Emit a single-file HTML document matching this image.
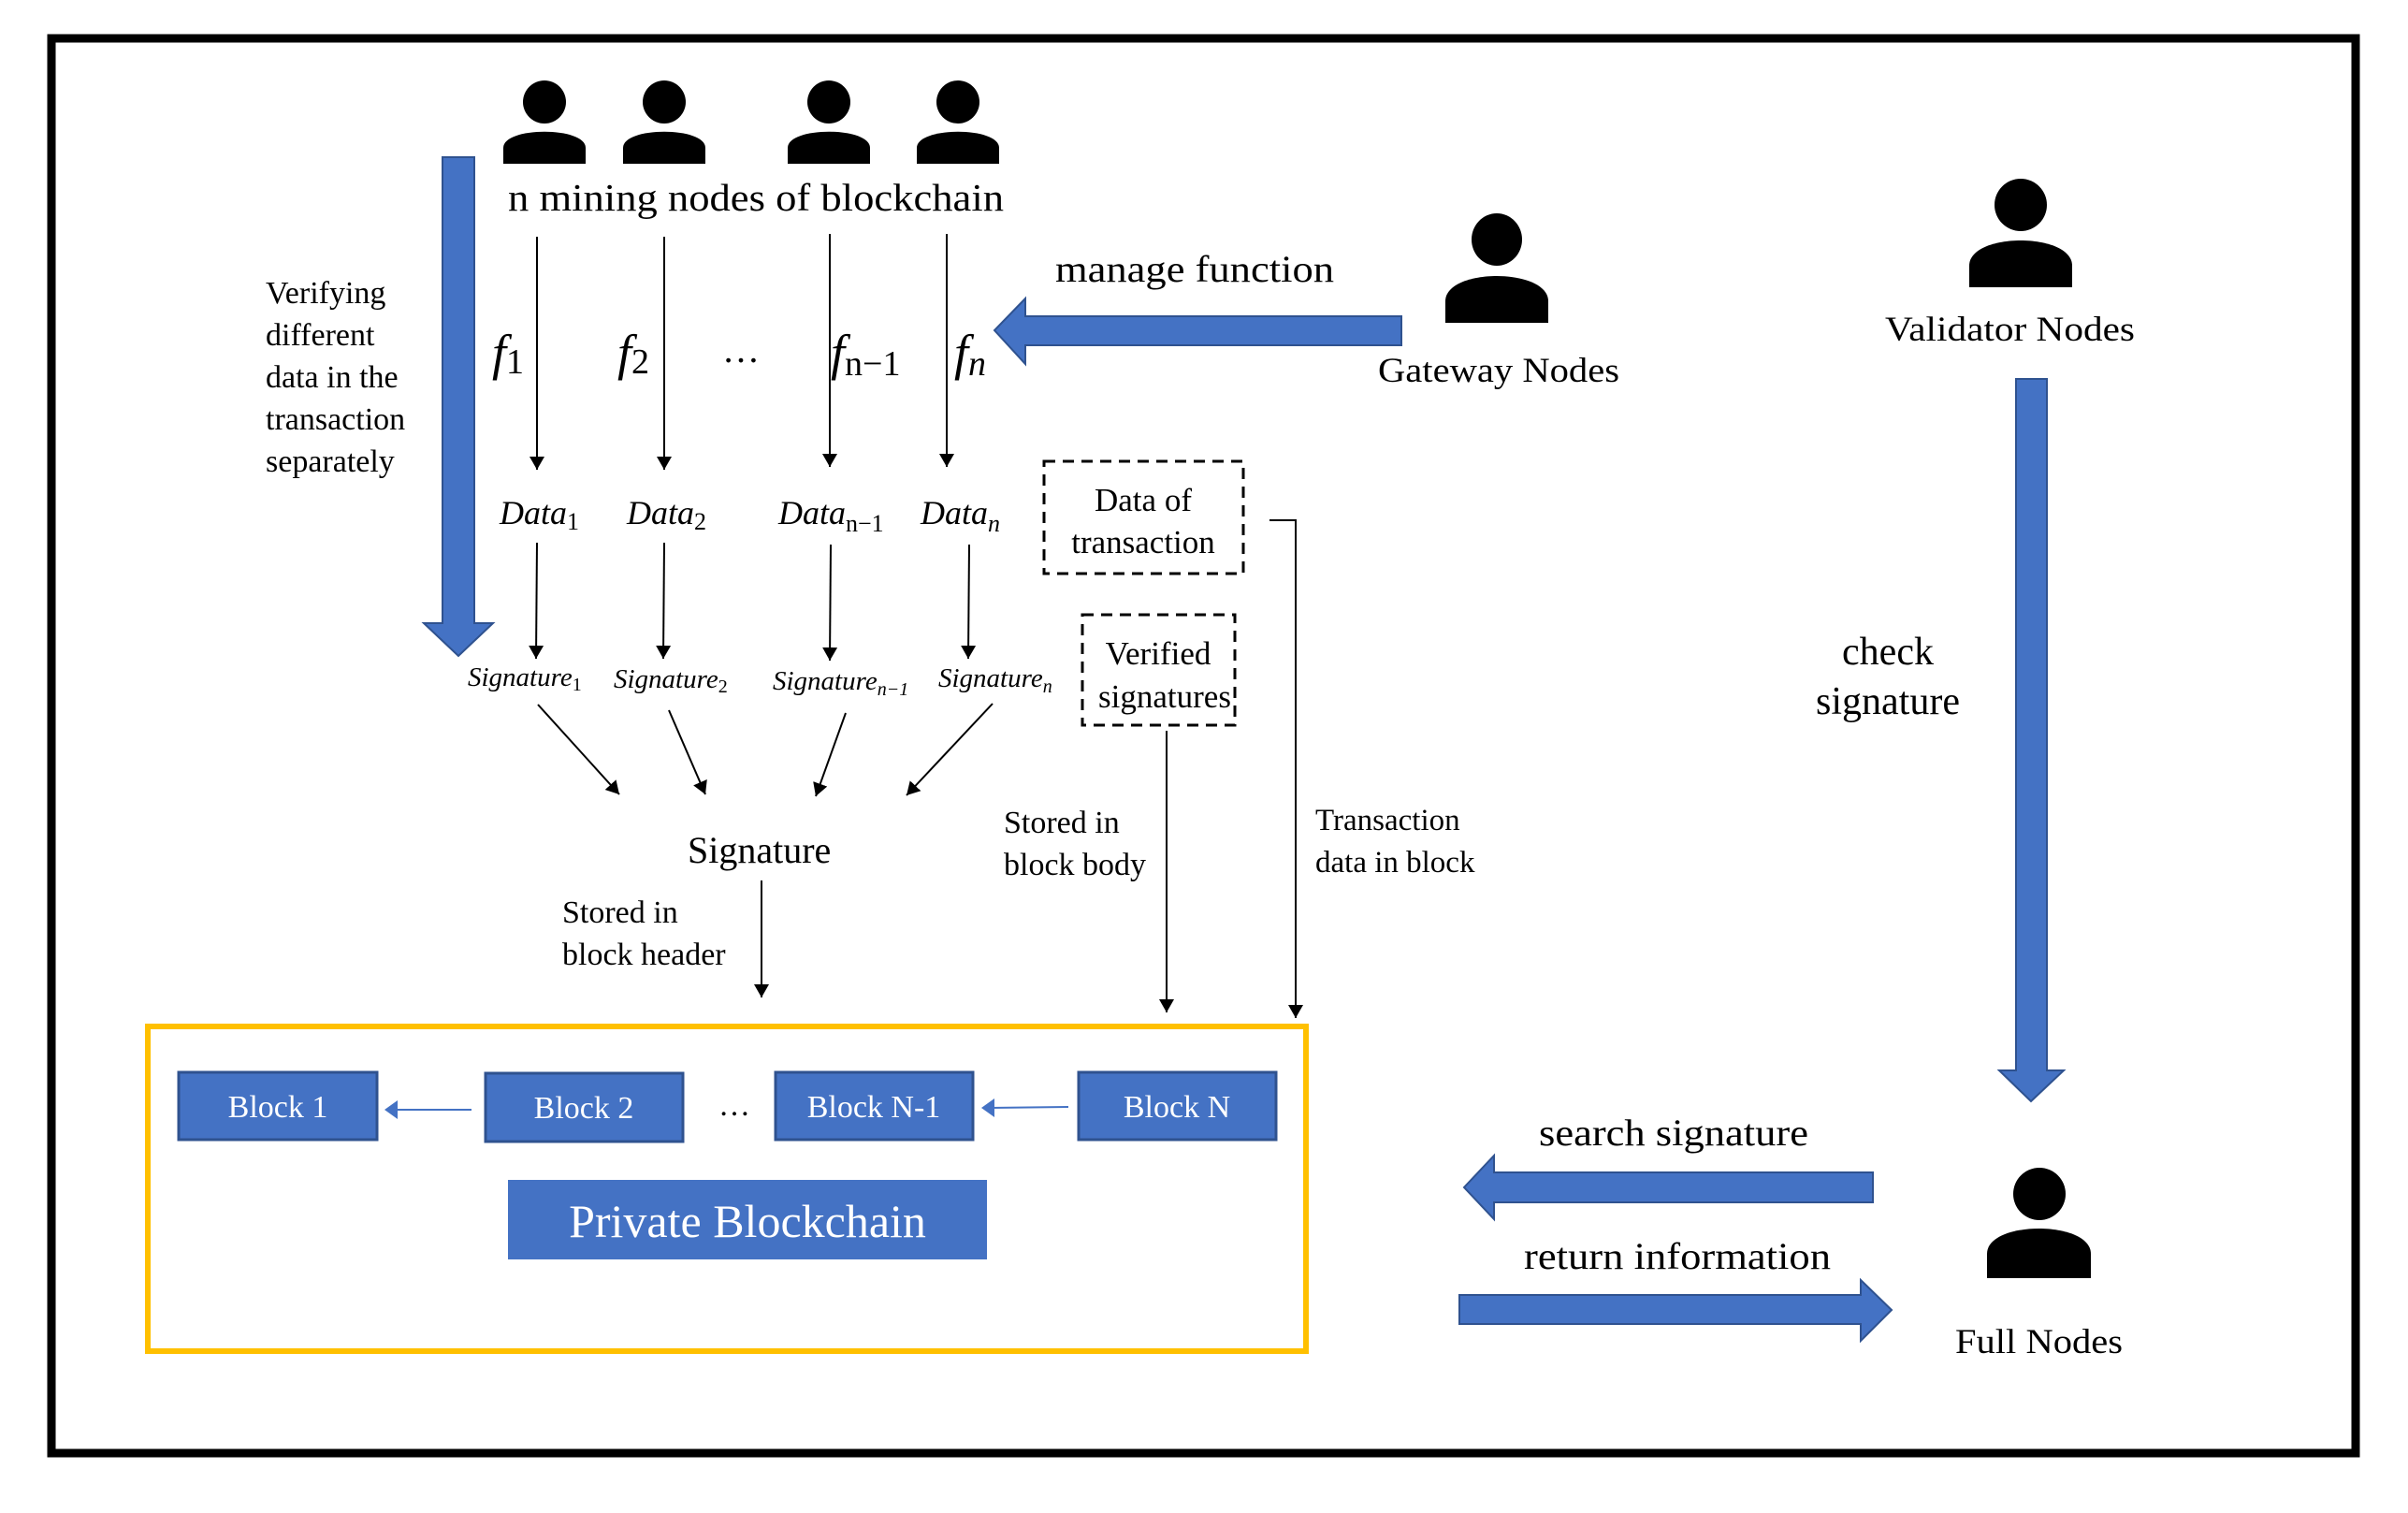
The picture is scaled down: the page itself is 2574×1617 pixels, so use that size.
<!DOCTYPE html>
<html><head><meta charset="utf-8"><style>
html,body{margin:0;padding:0;background:#fff;}
svg{display:block;}
text{font-family:"Liberation Serif",serif;}
.m{font-style:italic;}
.w{fill:#fff;}
</style></head><body>
<svg width="2574" height="1617" viewBox="0 0 2574 1617" xmlns="http://www.w3.org/2000/svg">
<defs>
<marker id="ah" markerWidth="14" markerHeight="16" refX="14" refY="8" orient="auto" markerUnits="userSpaceOnUse" viewBox="0 0 14 16">
<path d="M0,0 L14,8 L0,16 Z" fill="#000"/></marker>
</defs>
<rect x="55" y="41" width="2463" height="1512" fill="none" stroke="#000" stroke-width="9"/>

<g fill="#000">
<circle cx="582" cy="109" r="23"/><path d="M538,175 V158 C538,135 626,135 626,158 V175 Z"/>
<circle cx="710" cy="109" r="23"/><path d="M666,175 V158 C666,135 754,135 754,158 V175 Z"/>
<circle cx="886" cy="109" r="23"/><path d="M842,175 V158 C842,135 930,135 930,158 V175 Z"/>
<circle cx="1024" cy="109" r="23"/><path d="M980,175 V158 C980,135 1068,135 1068,158 V175 Z"/>
<ellipse cx="1600" cy="256" rx="27" ry="28"/><path d="M1545,345 V322 C1545,286 1655,286 1655,322 V345 Z"/>
<ellipse cx="2160" cy="219" rx="28" ry="28"/><path d="M2105,307 V284 C2105,248 2215,248 2215,284 V307 Z"/>
<ellipse cx="2180" cy="1276" rx="28" ry="28"/><path d="M2124,1366 V1340 C2124,1304 2235,1304 2235,1340 V1366 Z"/>
</g>

<text x="543" y="225" font-size="41" textLength="530" lengthAdjust="spacingAndGlyphs">n mining nodes of blockchain</text>

<path d="M473,168 H507 V666 H527 L490,701 L453,666 H473 Z" fill="#4472C4" stroke="#2F528F" stroke-width="2"/>
<g font-size="34">
<text x="284" y="324">Verifying</text>
<text x="284" y="369">different</text>
<text x="284" y="414">data in the</text>
<text x="284" y="459">transaction</text>
<text x="284" y="504">separately</text>
</g>

<g stroke="#000" stroke-width="2" marker-end="url(#ah)">
<line x1="574" y1="253" x2="574" y2="502"/>
<line x1="710" y1="253" x2="710" y2="502"/>
<line x1="887" y1="250" x2="887" y2="499"/>
<line x1="1012" y1="250" x2="1012" y2="499"/>
<line x1="574" y1="580" x2="573" y2="704"/>
<line x1="710" y1="580" x2="709" y2="704"/>
<line x1="888" y1="582" x2="887" y2="706"/>
<line x1="1036" y1="582" x2="1035" y2="704"/>
<line x1="575" y1="753" x2="662" y2="849"/>
<line x1="715" y1="759" x2="754" y2="849"/>
<line x1="904" y1="762" x2="872" y2="851"/>
<line x1="1061" y1="752" x2="969" y2="850"/>
<line x1="814" y1="941" x2="814" y2="1066"/>
<line x1="1247" y1="781" x2="1247" y2="1082"/>
<polyline points="1357,556 1385,556 1385,1088" fill="none"/>
</g>

<g class="m" font-size="54">
<text x="526" y="395">f<tspan font-size="38" dy="4" font-style="normal">1</tspan></text>
<text x="660" y="395">f<tspan font-size="38" dy="4" font-style="normal">2</tspan></text>
<text x="888" y="395">f<tspan font-size="38" dy="6" font-style="normal">n−1</tspan></text>
<text x="1020" y="395">f<tspan font-size="38" dy="6">n</tspan></text>
</g>
<text x="772" y="387" font-size="40">…</text>

<g class="m" font-size="36">
<text x="534" y="560">Data<tspan font-size="26" dy="6" font-style="normal">1</tspan></text>
<text x="670" y="560">Data<tspan font-size="26" dy="6" font-style="normal">2</tspan></text>
<text x="832" y="560">Data<tspan font-size="26" dy="8" font-style="normal">n−1</tspan></text>
<text x="984" y="560">Data<tspan font-size="26" dy="8">n</tspan></text>
</g>
<g class="m" font-size="29">
<text x="500" y="733">Signature<tspan font-size="20" dy="5" font-style="normal">1</tspan></text>
<text x="656" y="735">Signature<tspan font-size="20" dy="5" font-style="normal">2</tspan></text>
<text x="826" y="737">Signature<tspan font-size="20" dy="6">n−1</tspan></text>
<text x="1003" y="734">Signature<tspan font-size="20" dy="6">n</tspan></text>
</g>

<g fill="none" stroke="#000" stroke-width="3" stroke-dasharray="12,8">
<rect x="1116" y="493" width="213" height="120"/>
<rect x="1157" y="657" width="163" height="118"/>
</g>
<g font-size="35" text-anchor="middle">
<text x="1222" y="546">Data of</text>
<text x="1222" y="591">transaction</text>
<text x="1238" y="710">Verified</text>
<text x="1245" y="756">signatures</text>
</g>

<text x="735" y="922" font-size="40">Signature</text>
<g font-size="34">
<text x="601" y="986">Stored in</text>
<text x="601" y="1031">block header</text>
<text x="1073" y="890">Stored in</text>
<text x="1073" y="935">block body</text>
<text x="1406" y="887" font-size="33">Transaction</text>
<text x="1406" y="932" font-size="33">data in block</text>
</g>

<path d="M1498,338 V369 H1096 V389 L1063,353 L1096,319 V338 Z" fill="#4472C4" stroke="#2F528F" stroke-width="2"/>
<text x="1128" y="301" font-size="40" textLength="298" lengthAdjust="spacingAndGlyphs">manage function</text>
<text x="1473" y="408" font-size="37" textLength="258" lengthAdjust="spacingAndGlyphs">Gateway Nodes</text>
<text x="2015" y="364" font-size="37" textLength="267" lengthAdjust="spacingAndGlyphs">Validator Nodes</text>

<path d="M2155,405 H2188 V1144 H2206 L2171,1177 L2137,1144 H2155 Z" fill="#4472C4" stroke="#2F528F" stroke-width="2"/>
<g font-size="42" text-anchor="middle">
<text x="2018" y="710">check</text>
<text x="2018" y="763">signature</text>
</g>

<path d="M2002,1253 V1285 H1597 V1303 L1565,1269 L1597,1235 V1253 Z" fill="#4472C4" stroke="#2F528F" stroke-width="2"/>
<path d="M1560,1384 V1415 H1989 V1433 L2022,1400 L1989,1368 V1384 Z" fill="#4472C4" stroke="#2F528F" stroke-width="2"/>
<text x="1645" y="1224" font-size="40" textLength="288" lengthAdjust="spacingAndGlyphs">search signature</text>
<text x="1629" y="1356" font-size="40" textLength="328" lengthAdjust="spacingAndGlyphs">return information</text>
<text x="2090" y="1446" font-size="37" textLength="179" lengthAdjust="spacingAndGlyphs">Full Nodes</text>

<rect x="158" y="1097" width="1238" height="347" fill="none" stroke="#FFC000" stroke-width="6"/>
<g fill="#4472C4" stroke="#2F528F" stroke-width="3">
<rect x="191" y="1146" width="212" height="72"/>
<rect x="519" y="1147" width="211" height="73"/>
<rect x="829" y="1146" width="211" height="72"/>
<rect x="1153" y="1146" width="211" height="72"/>
</g>
<rect x="543" y="1261" width="512" height="85" fill="#4472C4"/>
<g font-size="34" text-anchor="middle">
<text class="w" x="297" y="1194">Block 1</text>
<text class="w" x="624" y="1195">Block 2</text>
<text class="w" x="934" y="1194">Block N-1</text>
<text class="w" x="1258" y="1194">Block N</text>
<text class="w" x="799" y="1322" font-size="50">Private Blockchain</text>
</g>
<text x="768" y="1192" font-size="34">…</text>
<g stroke="#4472C4" stroke-width="2">
<line x1="504" y1="1186" x2="420" y2="1186"/>
<line x1="1142" y1="1183" x2="1058" y2="1184"/>
</g>
<g fill="#4472C4">
<path d="M411,1186 L425,1176 L425,1196 Z"/>
<path d="M1049,1184 L1063,1174 L1063,1194 Z"/>
</g>
</svg>
</body></html>
